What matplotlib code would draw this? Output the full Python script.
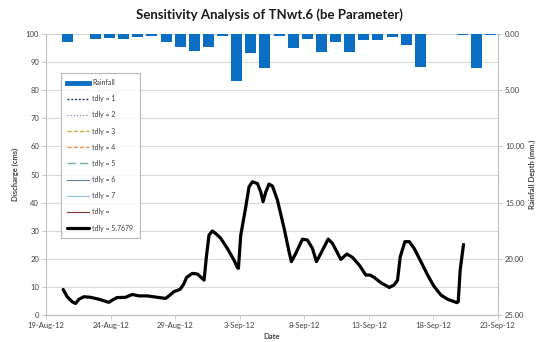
import matplotlib
matplotlib.use("Agg")
import matplotlib.pyplot as plt
import matplotlib.dates as mdates
from matplotlib.lines import Line2D
from matplotlib.ticker import FuncFormatter, MultipleLocator
import pandas as pd

plt.rcParams['font.family'] = ['Lato', 'DejaVu Sans']

# ---------------- data ----------------
title = "Sensitivity Analysis of TNwt.6 (be Parameter)"
start_date = "2012-08-19"

# rainfall depth (mm) per day, 19-Aug-12 .. 19-Sep-12
rain_dates = pd.date_range("2012-08-19", periods=32, freq="D")
rain_mm = [0, 0.74, 0, 0.44, 0.33, 0.44, 0.27, 0.15, 0.74, 1.18, 1.48, 1.18, 0.2,
           4.14, 1.71, 3.01, 0.15, 1.24, 0.44, 1.62, 0.74, 1.57, 0.5, 0.56, 0.3,
           0.97, 2.9, 0, 0, 0.09, 3.04, 0.09]

# discharge (cms) for tdly = 5.7679, time in days after 19-Aug-12
q_days = [1.33, 1.64, 2.03, 2.29, 2.55, 2.93, 3.45, 4.1, 4.87, 5.13, 5.5, 6.16, 6.68,
          7.2, 7.84, 8.62, 9.26, 9.52, 9.9, 10.37, 10.63, 10.89, 11.33, 11.72, 12.1,
          12.24, 12.42, 12.62, 12.88, 13.14, 13.53, 14.04, 14.56, 14.82, 14.9, 15.08,
          15.47, 15.72, 15.98, 16.37, 16.63, 16.81, 17.02, 17.27, 17.53, 17.92, 18.44,
          18.82, 19.0, 19.34, 19.86, 20.24, 20.63, 20.94, 21.28, 21.85, 22.18, 22.83,
          23.3, 23.73, 24.25, 24.77, 25.1, 25.41, 25.93, 26.58, 26.96, 27.22, 27.43,
          27.79, 28.13, 28.51, 29.03, 29.55, 30.06, 30.58, 31.1, 31.82, 31.92, 32.07,
          32.33]
q_cms = [9.1, 6.5, 4.7, 4.1, 5.6, 6.5, 6.3, 5.6, 4.5, 5.3, 6.2, 6.3, 7.3,
         6.8, 6.8, 6.3, 5.9, 6.8, 8.3, 9.1, 10.7, 13.4, 14.8, 14.6, 13.0,
         12.4, 20.7, 28.4, 29.9, 29.0, 27.3, 23.7, 19.5, 16.9, 16.6, 28.4,
         38.5, 45.6, 47.4, 46.8, 43.8, 40.3, 43.8, 46.6, 45.9, 40.9, 30.8,
         22.5, 19.0, 21.9, 27.0, 26.7, 23.7, 19.0, 21.9, 27.0, 25.5, 19.8,
         21.7, 20.5, 17.8, 14.2, 14.2, 13.4, 11.5, 9.8, 10.7, 12.4, 20.7,
         26.1, 26.1, 23.7, 19.0, 14.2, 10.1, 7.1, 5.6, 4.4, 4.7, 16.0,
         25.1]

legend_labels = ["Rainfall", "tdly = 1", "tdly = 2", "tdly = 3", "tdly = 4",
                 "tdly = 5", "tdly = 6", "tdly = 7", "tdly =", "tdly = 5.7679"]

# ---------------- figure ----------------
fig = plt.figure(figsize=(5.38, 3.42), dpi=100)
L, R, T, B = 46 / 538, 498 / 538, 1 - 34 / 342, 1 - 315 / 342
ax = fig.add_axes([L, B, R - L, T - B])

base = pd.Timestamp(start_date)
q_times = [base + pd.Timedelta(days=d) for d in q_days]

grid_c = "#d9d9d9"
axis_c = "#bfbfbf"
text_c = "#404040"

# empty sensitivity series (only shown in legend)
styles = [
    dict(color="#1F3864", ls=(0, (1.5, 1.2)), lw=1.0),
    dict(color="#8090B8", ls=(0, (1, 1.5)), lw=0.9),
    dict(color="#C8B040", ls=(0, (3, 1.5)), lw=1.0),
    dict(color="#F09040", ls=(0, (3, 1.5)), lw=1.0),
    dict(color="#6FB0A8", ls=(0, (6, 3)), lw=1.0),
    dict(color="#5A84B8", ls="-", lw=0.8),
    dict(color="#8CC8D0", ls="-", lw=0.8),
    dict(color="#8B3030", ls="-", lw=0.8),
]
handles = []
for st, lab in zip(styles, legend_labels[1:9]):
    h, = ax.plot([], [], label=lab, **st)
    handles.append(h)

main, = ax.plot(q_times, q_cms, color="black", lw=2.3, solid_joinstyle="round",
                solid_capstyle="round", label=legend_labels[9])
handles.append(main)

ax.set_xlim(pd.Timestamp("2012-08-19"), pd.Timestamp("2012-09-23"))
ax.set_ylim(0, 100)
ax.yaxis.set_major_locator(MultipleLocator(10))
ticks = pd.date_range("2012-08-19", "2012-09-23", freq="5D")
ax.set_xticks(ticks)
ax.xaxis.set_major_formatter(FuncFormatter(
    lambda v, p: (lambda d: f"{d.day}-{d.strftime('%b-%y')}")(mdates.num2date(v))))
ax.grid(axis="y", color=grid_c, lw=0.8)
ax.set_axisbelow(True)
for s in ["top", "right"]:
    ax.spines[s].set_visible(False)
for s in ["left", "bottom"]:
    ax.spines[s].set_color(axis_c)
    ax.spines[s].set_linewidth(0.8)
ax.tick_params(axis="both", labelsize=5.5, colors=text_c, length=3, width=0.6,
               color=axis_c, pad=2)
ax.set_xlabel("Date", fontsize=5.5, fontweight="bold", color=text_c, labelpad=3)
ax.set_ylabel("Discharge (cms)", fontsize=5.5, fontweight="bold", color=text_c, labelpad=5)

# rainfall axis
ax2 = ax.twinx()
ax2.set_ylim(25, 0)
ax2.yaxis.set_major_locator(MultipleLocator(5))
ax2.yaxis.set_major_formatter(FuncFormatter(lambda v, p: f"{v:.2f}"))
for s in ["top", "left", "bottom"]:
    ax2.spines[s].set_visible(False)
ax2.spines["right"].set_color(axis_c)
ax2.spines["right"].set_linewidth(0.8)
ax2.tick_params(axis="y", labelsize=5.5, colors=text_c, length=3, width=0.6,
                color=axis_c, pad=2)
ax2.set_ylabel("Rainfall Depth (mm.)", fontsize=5.5, fontweight="bold", color=text_c,
               labelpad=3)

ax3 = ax2.twiny()
bars = ax3.bar(range(len(rain_mm)), rain_mm, width=0.78, color="#0A6FC2", label="Rainfall")
ax3.set_xlim(-0.5, len(rain_mm) - 0.5)
ax3.xaxis.set_visible(False)
for s in ax3.spines.values():
    s.set_visible(False)

rain_h = Line2D([], [], color="#0A6FC2", lw=3.5)
leg = ax3.legend([rain_h] + handles, legend_labels, loc="upper left",
                 bbox_to_anchor=(0.033, 0.862), fontsize=5, frameon=True,
                 fancybox=False, edgecolor="#a6a6a6", handlelength=3.2,
                 handletextpad=0.4, labelspacing=1.32, borderpad=0.9,
                 borderaxespad=0)
leg.get_frame().set_linewidth(0.8)
for t in leg.get_texts():
    t.set_color(text_c)

fig.text(0.5, 1 - 15 / 342, title, ha="center", va="center", fontsize=9.5,
         fontweight="bold", color="#1a1a1a")

fig.savefig("out.png", dpi=100)
